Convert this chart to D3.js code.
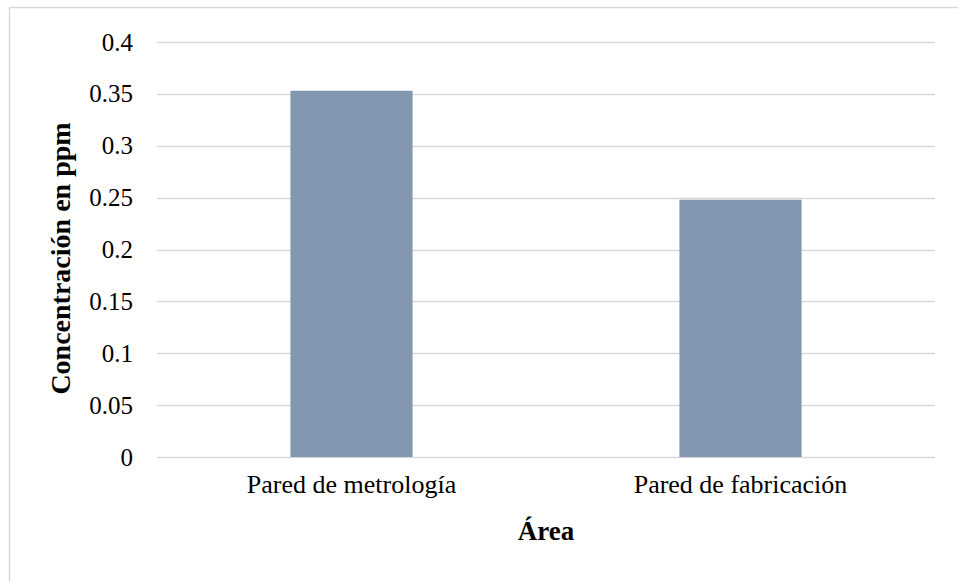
<!DOCTYPE html>
<html>
<head>
<meta charset="utf-8">
<script src="https://cdn.jsdelivr.net/npm/d3@7"></script>
<style>
  html, body { margin: 0; padding: 0; background: #fff; }
  svg { display: block; }
  svg text { font-family: "Liberation Serif", "Times New Roman", serif !important; fill: #000; }
</style>
</head>
<body>
<svg id="chart" width="958" height="582"></svg>
<script>
// Concentration per wall area (ppm)
const categories = ["Pared de metrología", "Pared de fabricación"];
const values = [0.353, 0.248];
const yTicks = [0, 0.05, 0.1, 0.15, 0.2, 0.25, 0.3, 0.35, 0.4];
const yTickLabels = ["0", "0.05", "0.1", "0.15", "0.2", "0.25", "0.3", "0.35", "0.4"];

const svg = d3.select("#chart");
const W = 958, H = 582;
const plot = { left: 157, right: 935, top: 42, bottom: 457 };

// chart frame (extends past the right and bottom edges)
svg.append("rect")
  .attr("x", 9.5).attr("y", 7.5)
  .attr("width", W + 20).attr("height", H + 20)
  .attr("fill", "#fff").attr("stroke", "#d9d9d9").attr("stroke-width", 1.5);

const x = d3.scaleBand()
  .domain(categories)
  .range([plot.left, plot.right])
  .paddingInner(0.686)
  .paddingOuter(0.343);

const y = d3.scaleLinear()
  .domain([0, 0.4])
  .range([plot.bottom, plot.top]);

// horizontal gridlines
svg.append("g")
  .selectAll("line")
  .data(yTicks)
  .join("line")
  .attr("x1", plot.left).attr("x2", plot.right)
  .attr("y1", d => Math.round(y(d)) + 0.5)
  .attr("y2", d => Math.round(y(d)) + 0.5)
  .attr("stroke", "#d9d9d9").attr("stroke-width", 1.5);

// y-axis labels
const yAxis = d3.axisLeft(y)
  .tickValues(yTicks)
  .tickFormat((d, i) => yTickLabels[i])
  .tickSize(0)
  .tickPadding(24);
const gy = svg.append("g").attr("transform", `translate(${plot.left},0)`).call(yAxis);
gy.select(".domain").remove();
gy.selectAll("text")
  .style("font-size", "25px")
  .attr("fill", "#000");

// bars
svg.append("g")
  .selectAll("rect")
  .data(values)
  .join("rect")
  .attr("x", (d, i) => x(categories[i]))
  .attr("width", x.bandwidth())
  .attr("y", d => y(d))
  .attr("height", d => y(0) - y(d))
  .attr("fill", "#8497b0");

// x-axis category labels
const xAxis = d3.axisBottom(x).tickSize(0).tickPadding(18);
const gx = svg.append("g").attr("transform", `translate(0,${plot.bottom})`).call(xAxis);
gx.select(".domain").remove();
gx.selectAll("text")
  .style("font-size", "26px")
  .attr("fill", "#000");

// axis titles
svg.append("text")
  .attr("x", (plot.left + plot.right) / 2)
  .attr("y", 540)
  .attr("text-anchor", "middle")
  .style("font-size", "27px")
  .style("font-weight", "bold")
  .text("Área");

svg.append("text")
  .attr("transform", `translate(70,${(plot.top + plot.bottom) / 2 + 9}) rotate(-90)`)
  .attr("text-anchor", "middle")
  .style("font-size", "28px")
  .style("font-weight", "bold")
  .text("Concentración en ppm");
</script>
</body>
</html>
